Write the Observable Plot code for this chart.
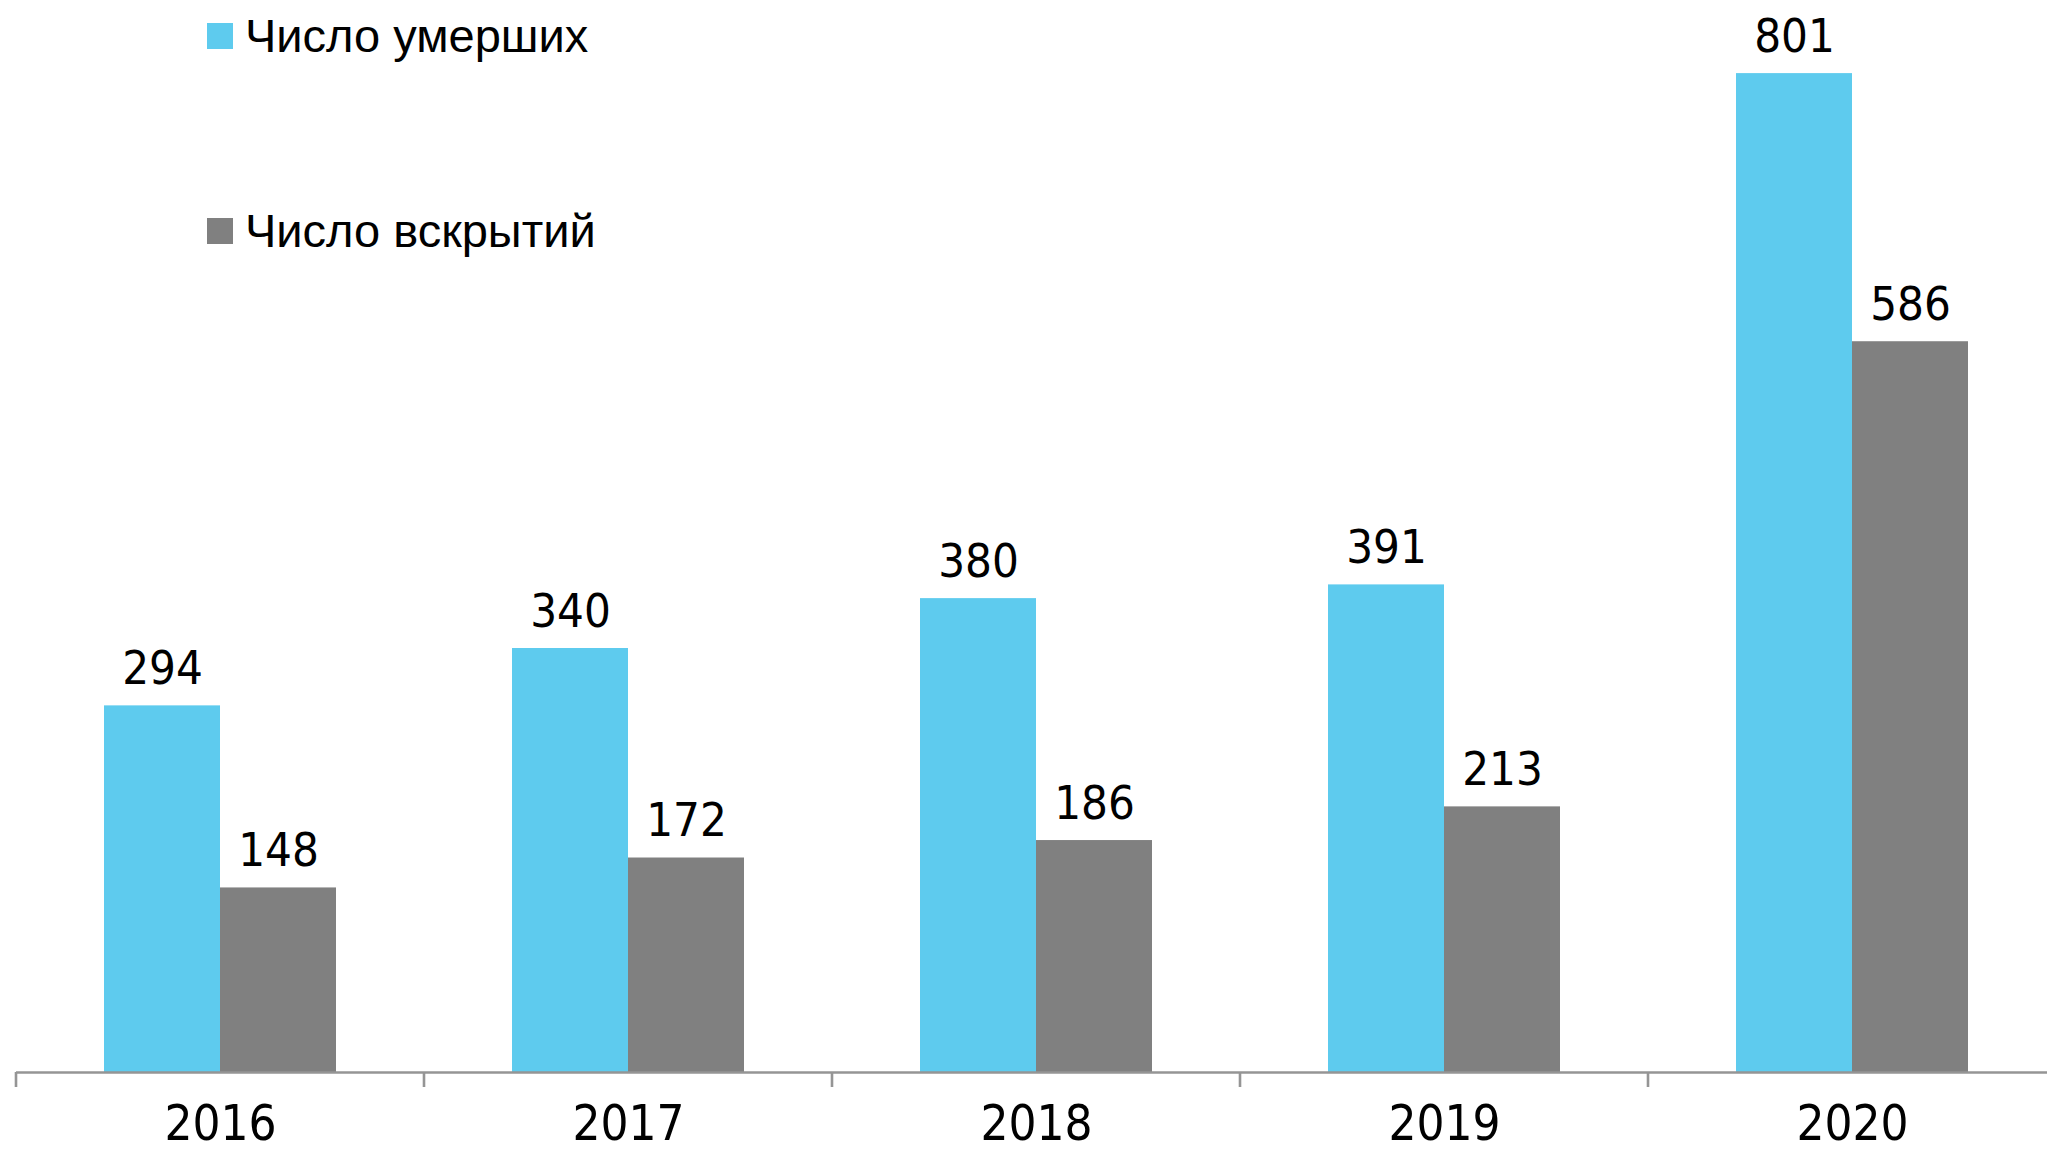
<!DOCTYPE html>
<html>
<head>
<meta charset="utf-8">
<script src="https://cdn.jsdelivr.net/npm/d3@7"></script>
<script src="https://cdn.jsdelivr.net/npm/@observablehq/plot@0.6"></script>
<style>
  html, body { margin: 0; padding: 0; background: #fff; overflow: hidden; width: 2047px; height: 1154px; }
  #wrap { position: relative; width: 2047px; height: 1154px; overflow: hidden; }
  #chart svg { max-width: none !important; }
  #legend { position: absolute; left: 207px; top: 0; font-family: "Liberation Sans", Arial, sans-serif; font-size: 47px; color: #000; }
  .item { position: absolute; left: 0; white-space: nowrap; display: flex; align-items: center; }
  .sw { width: 26px; height: 26px; margin-right: 12px; flex: none; }
</style>
</head>
<body>
<div id="wrap">
  <div id="chart"></div>
  <div id="legend"></div>
</div>
<script>
const years = ["2016", "2017", "2018", "2019", "2020"];
const series = ["Число умерших", "Число вскрытий"];
const deaths = [294, 340, 380, 391, 801];
const autopsies = [148, 172, 186, 213, 586];
const colors = ["#5ECBEE", "#808080"];

const rows = [];
years.forEach((yr, i) => {
  rows.push({year: yr, series: series[0], value: deaths[i]});
  rows.push({year: yr, series: series[1], value: autopsies[i]});
});

const W = 2056, H = 1154;
const axisColor = "#959595";

const chart = Plot.plot({
  width: W,
  height: H,
  marginLeft: 16,
  marginRight: 0,
  marginTop: 12,
  marginBottom: 82,
  style: {fontFamily: "'Liberation Sans Narrow', 'DejaVu Sans Condensed', sans-serif", fontSize: "49px", color: "#000", background: "#fff", maxWidth: "none"},
  fx: {domain: years, padding: 0, axis: "bottom", tickSize: 0, tickPadding: 33, label: null},
  x: {domain: series, paddingInner: 0, paddingOuter: 0.7436, axis: null},
  y: {domain: [0, 850], axis: null},
  color: {domain: series, range: colors},
  marks: [
    Plot.barY(rows, {fx: "year", x: "series", y: "value", fill: "series"}),
    Plot.text(rows, {fx: "year", x: "series", y: "value", text: d => String(d.value), lineAnchor: "bottom", dy: -22, fontSize: 47, fill: "#000"}),
    Plot.ruleY([0], {stroke: axisColor, strokeWidth: 2.6})
  ]
});
document.getElementById("chart").appendChild(chart);

// tick marks at the category boundaries, derived from Plot's fx and y scales
const fx = chart.scale("fx");
const ys = chart.scale("y");
const band = d3.scaleBand(fx.domain, fx.range).padding(0);
const y0 = ys.apply(0);
const svg = d3.select(chart);
const bounds = years.map(yr => band(yr)).concat([band.range()[1]]);
svg.append("g").selectAll("line").data(bounds).join("line")
  .attr("x1", d => d).attr("x2", d => d)
  .attr("y1", y0).attr("y2", y0 + 15)
  .attr("stroke", axisColor).attr("stroke-width", 2.6);

// legend
const legend = document.getElementById("legend");
const legendTops = [8, 203];
series.forEach((s, i) => {
  const it = document.createElement("div");
  it.className = "item";
  it.style.top = legendTops[i] + "px";
  const sw = document.createElement("span");
  sw.className = "sw";
  sw.style.background = colors[i];
  const tx = document.createElement("span");
  tx.textContent = s;
  it.appendChild(sw); it.appendChild(tx);
  legend.appendChild(it);
});
</script>
</body>
</html>
